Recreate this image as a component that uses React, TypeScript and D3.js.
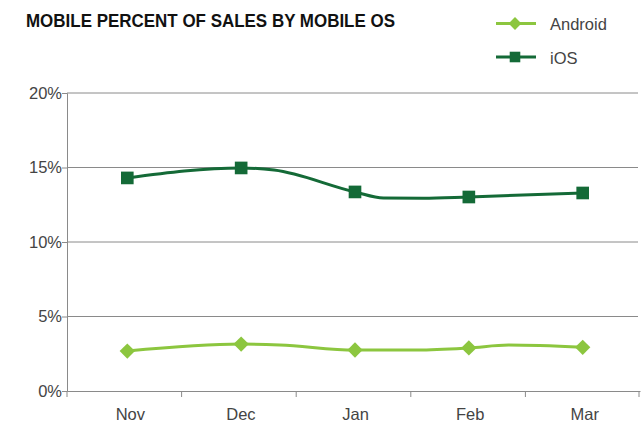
import {useEffect, useRef} from 'react';
import * as d3 from 'd3';

const [W, H] = [642, 425];
const margin = {top: 93, right: 2, bottom: 34, left: 67};

const months = ['Nov', 'Dec', 'Jan', 'Feb', 'Mar'];
const yTicks = [0, 5, 10, 15, 20];

// t = position in months (0 = Nov); markers only sit on whole months
const iosT = [0, 1, 1.29, 2, 2.25, 2.6, 3, 4];
const iosValues = [14.3, 14.97, 14.83, 13.36, 12.95, 12.93, 13.02, 13.29];
const androidT = [0, 1, 1.34, 2, 2.55, 3, 3.35, 4];
const androidValues = [2.68, 3.15, 3.09, 2.75, 2.75, 2.89, 3.08, 2.93];

const IOS = '#146a37';
const ANDROID = '#8cc63f';
const FONT = '"Liberation Sans", Arial, sans-serif';

function App() {
    const svgRef = useRef<SVGSVGElement>(null);

    useEffect(() => {
        if (!svgRef.current) return;
        const svg = d3.select(svgRef.current);
        svg.selectAll('*').remove();

        const x = d3.scaleBand().domain(months).range([margin.left, W - margin.right]);
        const y = d3.scaleLinear().domain([0, 20]).range([H - margin.bottom, margin.top]);
        const xt = d3.scaleLinear()
            .domain([0, months.length - 1])
            .range([x(months[0])! + x.bandwidth() / 2 + 3, x(months[months.length - 1])! + x.bandwidth() / 2]);

        // title
        svg.append('text')
            .attr('x', 26).attr('y', 27)
            .attr('textLength', 369).attr('lengthAdjust', 'spacingAndGlyphs')
            .style('font-family', FONT).style('font-weight', 'bold').style('font-size', '17.5px')
            .style('fill', '#111')
            .text('MOBILE PERCENT OF SALES BY MOBILE OS');

        // grid
        svg.append('g').selectAll('line').data(yTicks.filter(d => d > 0)).enter().append('line')
            .attr('x1', margin.left).attr('x2', W - 4)
            .attr('y1', d => y(d)).attr('y2', d => y(d))
            .attr('stroke', '#8a8a8a').attr('stroke-width', 1);

        const yAxis = svg.append('g')
            .attr('transform', `translate(${margin.left},0)`)
            .call(d3.axisLeft(y).tickValues(yTicks).tickSize(5).tickFormat(d => `${d}%`));
        yAxis.select('.domain').attr('stroke', '#8a8a8a');
        yAxis.selectAll('.tick line').attr('stroke', '#8a8a8a');
        yAxis.selectAll('.tick text')
            .attr('x', -5)
            .style('font-family', FONT).style('font-size', '16.5px').style('fill', '#444');

        const xAxis = svg.append('g')
            .attr('transform', `translate(0,${H - margin.bottom})`)
            .call(d3.axisBottom(x).tickSize(0));
        xAxis.select('.domain').attr('stroke', '#8a8a8a');
        xAxis.selectAll('.tick text')
            .attr('dy', '1.6em')
            .attr('x', (_d, i) => (i === 0 ? 6 : 2))
            .style('font-family', FONT).style('font-size', '16.5px').style('fill', '#444');
        xAxis.append('g').selectAll('line')
            .data(months.map(m => x(m)!).concat([x(months[months.length - 1])! + x.bandwidth() - 1]))
            .enter().append('line')
            .attr('x1', d => d).attr('x2', d => d).attr('y1', 0).attr('y2', 6)
            .attr('stroke', '#8a8a8a');

        const line = d3.line<[number, number]>()
            .x(d => xt(d[0])).y(d => y(d[1]))
            .curve(d3.curveMonotoneX);

        const series = [
            {name: 'Android', t: androidT, v: androidValues, color: ANDROID, shape: d3.symbolDiamond2, size: 150},
            {name: 'iOS', t: iosT, v: iosValues, color: IOS, shape: d3.symbolSquare, size: 160},
        ];

        series.forEach(s => {
            const pts = s.t.map((t, i) => [t, s.v[i]] as [number, number]);
            svg.append('path')
                .attr('d', line(pts))
                .attr('fill', 'none').attr('stroke', s.color).attr('stroke-width', 3);
            svg.append('g').selectAll('path').data(pts.filter(p => Number.isInteger(p[0]))).enter().append('path')
                .attr('transform', d => `translate(${xt(d[0])},${y(d[1])})`)
                .attr('d', d3.symbol().type(s.shape).size(s.size)())
                .attr('fill', s.color);
        });

        // legend
        const legend = svg.append('g').attr('transform', 'translate(496,23.5)');
        series.forEach((s, i) => {
            const g = legend.append('g').attr('transform', `translate(0,${i * 33.5})`);
            g.append('line').attr('x1', 0).attr('x2', 40).attr('stroke', s.color).attr('stroke-width', 3);
            g.append('path').attr('transform', 'translate(19,0)')
                .attr('d', d3.symbol().type(s.shape).size(s.size * 0.7)())
                .attr('fill', s.color);
            g.append('text').attr('x', 54).attr('y', 6.5)
                .style('font-family', FONT).style('font-size', '16.5px').style('fill', '#444')
                .text(s.name);
        });
    }, []);

    return (
        <div style={{position: 'absolute', left: 0, top: 0, background: '#fff'}}>
            <svg ref={svgRef} width={W} height={H} />
        </div>
    );
}

export default App;
